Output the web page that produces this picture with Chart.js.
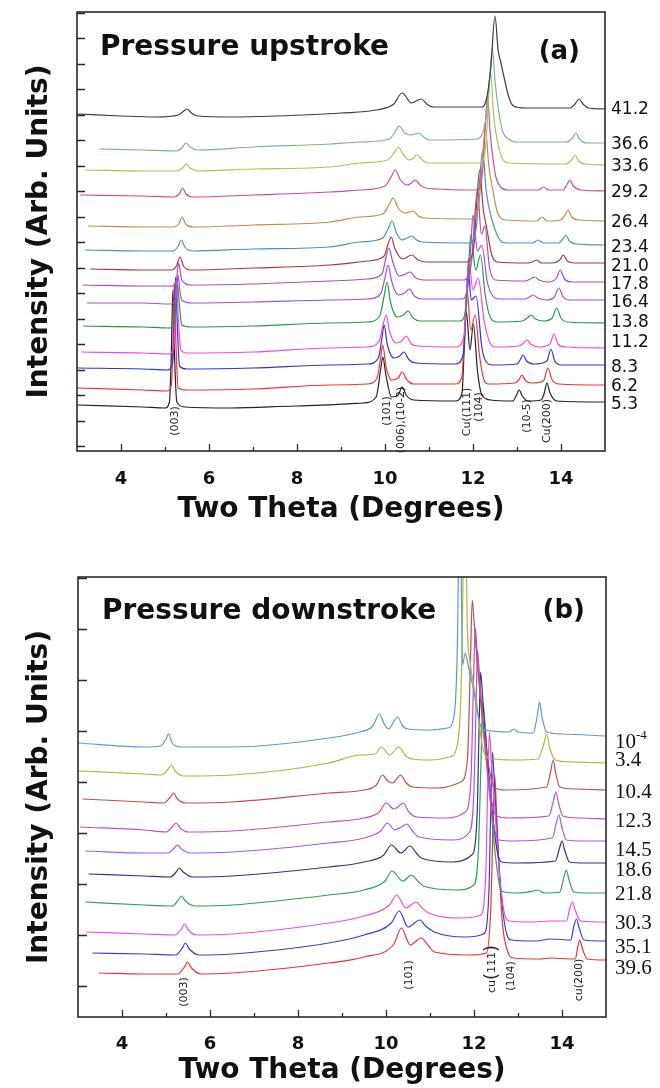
<!DOCTYPE html>
<html>
<head>
<meta charset="utf-8">
<title>XRD upstroke / downstroke</title>
<script src="https://cdn.jsdelivr.net/npm/chart.js@4.4.1/dist/chart.umd.min.js"></script>
<style>
  body { margin: 0; background: #fff; }
  .panel { position: absolute; left: 0; }
</style>
</head>
<body>
<div class="panel" style="top:0"><canvas id="up" width="660" height="545"></canvas></div>
<div class="panel" style="top:545px"><canvas id="down" width="660" height="543"></canvas></div>
<script>
// two theta axis ticks
const majorX = [4, 6, 8, 10, 12, 14];
const minorX = [5, 7, 9, 11, 13];

// ---- (a) pressure upstroke, pairs of [two theta, intensity] ----
const upPressures = ['41.2', '36.6', '33.6', '29.2', '26.4', '23.4', '21.0', '17.8', '16.4', '13.8', '11.2', '8.3', '6.2', '5.3'];
const upColors = ['#3d3d3d', '#7fb38a', '#a8c657', '#d24b9e', '#c98a4b', '#4a8ec8', '#a83b3b', '#b04bb8', '#a24fe6', '#2a9a48', '#f04ae6', '#3434d0', '#ee3636', '#222222'];

const up41_2 = [3.0,332, 4.0,330, 4.8,329, 5.3,331, 5.4,334, 5.5,337, 5.6,333, 5.75,330, 6.5,329, 7.5,330, 9.0,333, 9.8,336, 10.2,342, 10.39,353, 10.6,343, 10.82,347, 10.95,342, 11.1,339, 12.2,339, 12.3,346, 12.4,376, 12.5,430, 12.57,396, 12.63,384, 12.72,366, 12.82,348, 12.92,340, 13.2,338, 14.2,338, 14.32,342, 14.41,347, 14.5,342, 14.62,338, 15.0,337];
const up36_6 = [3.5,297, 4.5,296, 5.25,295, 5.4,299, 5.48,303, 5.57,299, 5.75,296, 7.0,299, 8.75,302, 9.43,304, 10.1,307, 10.24,315, 10.32,320, 10.45,313, 10.57,311, 10.68,312, 10.77,313, 10.88,309, 11.0,306, 12.1,307, 12.3,330, 12.38,370, 12.44,398, 12.5,365, 12.58,336, 12.68,314, 12.8,307, 13.0,304, 14.12,304, 14.26,308, 14.34,313, 14.42,307, 14.58,303, 15.0,303];
const up33_6 = [3.18,276, 4.5,275, 5.25,275, 5.4,278, 5.48,282, 5.57,278, 5.75,275, 7.0,277, 8.75,279, 9.43,283, 10.05,286, 10.22,294, 10.3,299, 10.42,291, 10.55,286, 10.65,288, 10.73,291, 10.85,286, 10.98,283, 12.16,283, 12.3,305, 12.35,345, 12.4,374, 12.47,330, 12.55,306, 12.65,289, 12.8,283, 14.1,282, 14.24,286, 14.32,291, 14.4,285, 14.55,282, 15.0,281];
const up29_2 = [3.07,251, 4.5,250, 5.2,249, 5.32,252, 5.4,258, 5.48,252, 5.65,249, 7.0,251, 8.75,254, 9.43,256, 10.0,260, 10.15,270, 10.23,276, 10.35,266, 10.5,261, 10.6,263, 10.68,266, 10.8,261, 10.92,258, 12.1,256, 12.22,275, 12.28,320, 12.33,350, 12.39,313, 12.45,289, 12.52,269, 12.63,259, 12.8,256, 13.48,256, 13.6,259, 13.72,256, 14.05,256, 14.13,261, 14.2,266, 14.28,260, 14.45,256, 15.0,255];
const up26_4 = [3.25,220, 4.5,219, 5.18,219, 5.31,222, 5.39,229, 5.47,222, 5.65,219, 7.0,221, 8.75,224, 9.43,229, 9.95,232, 10.1,242, 10.18,248, 10.3,238, 10.45,233, 10.55,234, 10.64,235, 10.76,230, 10.9,228, 12.0,227, 12.14,245, 12.22,290, 12.28,318, 12.36,280, 12.45,256, 12.56,233, 12.75,226, 13.45,225, 13.57,229, 13.68,225, 14.0,226, 14.09,231, 14.16,236, 14.24,229, 14.4,226, 15.0,225];
const up23_4 = [3.18,196, 4.5,195, 5.17,195, 5.29,199, 5.37,206, 5.45,199, 5.62,195, 7.0,197, 8.75,199, 9.43,204, 9.95,208, 10.08,218, 10.16,225, 10.26,213, 10.39,206, 10.5,208, 10.61,210, 10.72,206, 10.84,204, 11.93,203, 12.08,220, 12.15,265, 12.22,296, 12.3,255, 12.43,226, 12.55,211, 12.65,204, 12.8,203, 13.35,203, 13.48,206, 13.6,203, 13.95,203, 14.04,207, 14.11,211, 14.19,205, 14.35,202, 15.0,201];
const up21_0 = [3.3,177, 4.5,176, 5.14,176, 5.26,180, 5.34,189, 5.42,180, 5.58,176, 7.0,178, 8.75,181, 9.6,185, 9.98,190, 10.07,202, 10.14,209, 10.22,198, 10.4,187, 10.61,191, 10.75,186, 10.95,184, 11.85,184, 12.02,200, 12.08,240, 12.15,276, 12.23,238, 12.32,216, 12.42,192, 12.55,184, 13.25,183, 13.35,184, 13.45,186, 13.55,183, 13.8,183, 13.97,186, 14.05,191, 14.14,185, 14.3,183, 15.0,183];
const up17_8 = [3.14,161, 4.5,160, 5.15,160, 5.26,166, 5.29,178, 5.31,183, 5.34,177, 5.38,166, 5.6,161, 7.0,162, 8.75,165, 9.6,167, 9.93,172, 10.02,188, 10.09,198, 10.17,185, 10.32,170, 10.47,172, 10.57,174, 10.7,168, 10.88,166, 11.8,166, 11.97,185, 12.03,225, 12.1,256, 12.19,212, 12.27,220, 12.37,180, 12.5,166, 13.2,165, 13.3,167, 13.4,169, 13.5,166, 13.7,164, 13.9,168, 13.98,176, 14.08,167, 14.25,164, 15.0,164];
const up16_4 = [3.23,143, 4.5,143, 5.12,142, 5.24,146, 5.27,158, 5.3,171, 5.33,158, 5.38,146, 5.6,143, 7.0,144, 8.75,146, 9.6,147, 9.9,152, 10.0,168, 10.07,181, 10.15,165, 10.3,151, 10.45,153, 10.55,157, 10.67,150, 10.85,147, 11.75,147, 11.9,165, 11.95,200, 12.0,231, 12.1,195, 12.2,201, 12.32,165, 12.45,150, 12.6,147, 13.17,147, 13.28,149, 13.37,151, 13.47,148, 13.65,146, 13.85,149, 13.95,158, 14.05,149, 14.2,146, 15.0,146];
const up13_8 = [3.14,120, 4.5,119, 5.1,118, 5.22,124, 5.25,145, 5.28,163, 5.32,145, 5.38,121, 5.6,119, 7.0,120, 8.75,123, 9.6,124, 9.88,130, 9.98,150, 10.05,164, 10.12,145, 10.28,129, 10.42,131, 10.52,135, 10.64,128, 10.8,125, 11.7,125, 11.85,140, 11.9,180, 11.95,211, 12.06,176, 12.17,191, 12.28,150, 12.4,128, 12.55,124, 13.12,125, 13.23,128, 13.32,131, 13.42,127, 13.6,125, 13.8,128, 13.9,138, 14.0,128, 14.15,124, 15.0,123];
const up11_2 = [3.1,94, 4.5,93, 5.08,92, 5.2,98, 5.23,130, 5.26,168, 5.3,130, 5.36,96, 5.5,93, 7.0,94, 8.75,98, 9.6,99, 9.87,105, 9.96,122, 10.03,131, 10.1,115, 10.25,103, 10.38,105, 10.48,110, 10.6,102, 10.75,100, 11.6,99, 11.8,110, 11.85,150, 11.9,188, 12.0,156, 12.12,168, 12.25,126, 12.36,106, 12.5,99, 13.05,100, 13.15,103, 13.23,106, 13.31,102, 13.5,99, 13.75,102, 13.84,112, 13.93,102, 14.1,99, 15.0,98];
const up8_3 = [3.0,78, 4.5,77, 5.05,76, 5.17,82, 5.21,120, 5.24,169, 5.28,120, 5.33,80, 5.5,77, 7.0,78, 8.75,81, 9.6,82, 9.85,88, 9.93,108, 9.98,121, 10.05,102, 10.2,88, 10.33,90, 10.43,94, 10.55,86, 10.7,83, 11.6,82, 11.78,92, 11.84,135, 11.89,178, 11.96,146, 12.07,150, 12.2,99, 12.3,84, 12.45,81, 13.0,82, 13.07,86, 13.14,91, 13.22,85, 13.4,82, 13.68,85, 13.77,97, 13.86,85, 14.0,81, 15.0,81];
const up6_2 = [3.0,58, 4.5,56, 5.05,55, 5.14,60, 5.18,100, 5.21,163, 5.25,100, 5.3,58, 5.5,56, 7.0,57, 8.75,61, 9.6,62, 9.82,68, 9.9,88, 9.95,101, 10.02,80, 10.15,66, 10.3,68, 10.39,74, 10.5,66, 10.65,62, 11.6,62, 11.75,70, 11.8,110, 11.86,158, 11.95,116, 12.05,131, 12.15,90, 12.25,66, 12.35,62, 12.95,63, 13.04,66, 13.11,71, 13.2,65, 13.35,63, 13.6,65, 13.7,78, 13.8,66, 13.95,62, 15.0,61];
const up5_3 = [3.0,41, 4.5,39, 5.0,38, 5.1,44, 5.14,86, 5.18,156, 5.22,86, 5.27,44, 5.45,39, 6.5,38, 8.0,40, 9.5,43, 9.8,49, 9.9,76, 9.95,89, 10.02,71, 10.15,49, 10.3,51, 10.39,59, 10.48,51, 10.65,46, 11.6,45, 11.75,53, 11.8,96, 11.85,134, 11.93,96, 12.01,122, 12.1,76, 12.2,51, 12.4,46, 12.9,45, 12.98,50, 13.05,56, 13.12,50, 13.25,45, 13.55,46, 13.62,53, 13.68,63, 13.75,53, 13.9,45, 15.0,44];
const upTraces = [up41_2, up36_6, up33_6, up29_2, up26_4, up23_4, up21_0, up17_8, up16_4, up13_8, up11_2, up8_3, up6_2, up5_3];

// peak labels of (a): text, two theta, intensity at label centre
const upHkl = ['(003)', '(101)', '(006),(10-2)', 'Cu((111)', '(104)', '(10-5)', 'Cu(200)'];
const upHklX = [5.23, 10.05, 10.36, 11.86, 12.14, 13.23, 13.68];
const upHklY = [25, 35, 26, 34, 39, 30, 25];

// ---- (b) pressure downstroke ----
const downPressures = ['10^-4', '3.4', '10.4', '12.3', '14.5', '18.6', '21.8', '30.3', '35.1', '39.6'];
const downColors = ['#5b9bd0', '#b5b53c', '#c0504d', '#c04ec6', '#a65ae0', '#32328e', '#2fa24f', '#f24ee0', '#3c3cd6', '#f03434'];

const down1e4 = [3.0,243, 4.5,239, 4.88,240, 4.99,246, 5.06,252, 5.14,243, 5.35,239, 6.5,239, 8.7,248, 9.4,254, 9.7,260, 9.85,272, 9.96,262, 10.06,257, 10.16,263, 10.26,269, 10.38,260, 10.5,257, 11.0,256, 11.4,258, 11.55,271, 11.62,336, 11.68,506, 11.74,321, 11.8,333, 11.88,318, 11.97,301, 12.08,274, 12.17,258, 12.4,255, 12.8,254, 12.9,257, 13.0,254, 13.35,253, 13.44,271, 13.49,284, 13.55,268, 13.65,254, 14.0,252, 15.0,250];
const down3_4 = [3.0,215, 4.5,212, 4.9,211, 5.05,217, 5.12,221, 5.21,215, 5.4,210, 6.5,211, 8.7,223, 9.4,231, 9.75,232, 9.9,239, 10.08,231, 10.29,239, 10.45,230, 10.6,227, 11.0,226, 11.45,229, 11.62,241, 11.7,286, 11.8,486, 11.85,356, 11.9,328, 12.05,286, 12.2,238, 12.35,228, 12.9,226, 13.45,227, 13.58,241, 13.65,252, 13.72,238, 13.85,226, 14.2,224, 15.0,223];
const down10_4 = [3.1,187, 4.5,184, 4.95,183, 5.1,189, 5.17,193, 5.26,187, 5.45,183, 6.5,184, 8.7,193, 9.5,196, 9.78,201, 9.92,211, 10.04,205, 10.15,203, 10.24,207, 10.33,211, 10.46,203, 10.6,199, 11.2,198, 11.7,204, 11.85,226, 11.92,326, 11.96,386, 12.0,366, 12.05,336, 12.2,266, 12.35,216, 12.45,199, 12.7,196, 13.65,199, 13.74,214, 13.8,226, 13.86,212, 13.95,199, 14.3,197, 15.0,196];
const down12_3 = [3.05,159, 4.5,156, 5.0,154, 5.16,160, 5.23,163, 5.32,158, 5.5,154, 6.5,155, 8.7,164, 9.5,168, 9.85,174, 10.0,183, 10.18,177, 10.3,180, 10.39,183, 10.52,174, 10.7,169, 11.4,168, 11.8,174, 11.93,206, 11.99,306, 12.03,358, 12.08,326, 12.15,286, 12.28,226, 12.42,181, 12.52,170, 12.8,168, 13.7,170, 13.8,184, 13.86,194, 13.92,183, 14.02,170, 14.4,168, 15.0,167];
const down14_5 = [3.17,135, 4.5,133, 5.05,133, 5.19,138, 5.26,141, 5.35,137, 5.55,133, 6.5,134, 8.7,143, 9.5,148, 9.88,155, 10.03,163, 10.2,156, 10.35,159, 10.47,162, 10.6,155, 10.75,149, 11.5,146, 11.9,154, 12.0,196, 12.05,286, 12.08,336, 12.13,306, 12.2,266, 12.33,201, 12.47,156, 12.57,146, 12.9,145, 13.78,148, 13.87,163, 13.93,171, 13.99,160, 14.1,146, 14.5,145, 15.0,145];
const down18_6 = [3.24,112, 4.5,110, 5.1,109, 5.23,114, 5.3,118, 5.39,114, 5.6,109, 6.5,110, 8.7,119, 9.5,124, 9.95,131, 10.12,141, 10.34,133, 10.55,140, 10.67,134, 10.8,128, 11.5,124, 11.95,131, 12.07,171, 12.12,266, 12.15,314, 12.2,286, 12.27,246, 12.4,181, 12.53,134, 12.63,124, 13.0,123, 13.85,125, 13.95,139, 14.0,145, 14.06,136, 14.17,124, 14.5,123, 15.0,123];
const down21_8 = [3.17,84, 4.5,81, 5.15,80, 5.28,86, 5.35,90, 5.44,85, 5.65,80, 6.5,81, 8.7,91, 9.5,96, 9.98,105, 10.14,115, 10.38,105, 10.58,111, 10.7,106, 10.85,100, 11.6,96, 12.0,101, 12.1,136, 12.16,226, 12.2,284, 12.25,261, 12.32,216, 12.45,146, 12.58,101, 12.68,94, 13.0,93, 13.35,95, 13.45,96, 13.6,93, 13.95,94, 14.04,108, 14.1,116, 14.16,106, 14.27,94, 14.6,93, 15.0,93];
const down30_3 = [3.17,54, 4.5,52, 5.2,51, 5.35,57, 5.42,62, 5.51,56, 5.7,51, 6.5,52, 8.7,63, 9.5,70, 10.08,81, 10.24,91, 10.45,78, 10.68,84, 10.8,79, 10.97,73, 11.7,68, 12.15,71, 12.27,116, 12.31,196, 12.35,254, 12.39,226, 12.46,186, 12.57,116, 12.7,71, 12.8,65, 13.3,64, 13.7,65, 14.1,65, 14.18,78, 14.24,84, 14.3,76, 14.42,65, 15.0,64];
const down35_1 = [3.33,33, 4.5,32, 5.22,31, 5.37,38, 5.44,43, 5.53,37, 5.75,31, 6.5,32, 8.7,43, 9.5,51, 10.12,63, 10.3,75, 10.5,59, 10.77,66, 10.9,60, 11.1,54, 11.8,49, 12.22,52, 12.34,96, 12.38,176, 12.42,234, 12.46,206, 12.52,156, 12.63,86, 12.75,51, 12.85,46, 13.4,45, 13.75,47, 14.2,46, 14.27,60, 14.33,67, 14.39,58, 14.5,46, 15.0,45];
const down39_6 = [3.47,13, 4.5,12, 5.27,12, 5.42,19, 5.49,24, 5.58,18, 5.8,12, 6.5,13, 8.7,23, 9.5,29, 10.18,42, 10.35,58, 10.55,41, 10.8,48, 10.95,41, 11.1,34, 11.9,31, 12.28,33, 12.38,76, 12.43,156, 12.47,211, 12.51,176, 12.56,126, 12.65,61, 12.77,34, 12.9,28, 13.5,27, 13.75,28, 14.3,27, 14.36,39, 14.4,46, 14.46,38, 14.57,27, 15.0,26];
const downTraces = [down1e4, down3_4, down10_4, down12_3, down14_5, down18_6, down21_8, down30_3, down35_1, down39_6];

const downHkl = ['(003)', '(101)', 'cu(111)', '(104)', 'cu(200)'];
const downHklX = [5.42, 10.53, 12.42, 12.85, 14.4];
const downHklY = [-6, 11, 17, 10, 6];

// label offsets in px from the end of each trace
const upNudge = [1, 2, 2, 2, 2, 3, 4, 3, 3, 0, -5, 3, 2, 3];
const downNudge = [6, -3, 2, 2, 9, 7, 1, 1, 6, 8];

function pts(flat) {
    const out = [];
    for (let i = 0; i < flat.length; i += 2) out.push({x: flat[i], y: flat[i + 1]});
    return out;
}

function drawRotated(ctx, text, big) {
    // text rotated -90deg, centred on the origin
    const parts = big ? text.split(/([()])/).filter(s => s.length) : [text];
    const fontOf = s => (big && (s === '(' || s === ')')) ? '18px "DejaVu Sans"' : '11px "DejaVu Sans"';
    let total = 0;
    parts.forEach(s => { ctx.font = fontOf(s); total += ctx.measureText(s).width; });
    let pos = -total / 2;
    ctx.textAlign = 'left';
    ctx.textBaseline = 'middle';
    parts.forEach(s => {
        ctx.font = fontOf(s);
        ctx.fillText(s, pos, 0);
        pos += ctx.measureText(s).width;
    });
}

function makeDecor(cfg) {
    return {
        id: 'decor',
        afterDraw(chart) {
            const ctx = chart.ctx, a = chart.chartArea;
            const xs = chart.scales.x, ys = chart.scales.y;
            ctx.save();

            // inward ticks
            ctx.strokeStyle = '#2a2a2a';
            ctx.lineWidth = 1.3;
            ctx.beginPath();
            majorX.forEach(v => {
                const px = Math.round(xs.getPixelForValue(v)) + 0.5;
                ctx.moveTo(px, a.bottom); ctx.lineTo(px, a.bottom - 7);
            });
            minorX.forEach(v => {
                const px = Math.round(xs.getPixelForValue(v)) + 0.5;
                ctx.moveTo(px, a.bottom); ctx.lineTo(px, a.bottom - 4);
            });
            for (let v = 0; v < ys.max; v += cfg.yStep) {
                const py = Math.round(ys.getPixelForValue(v)) + 0.5;
                ctx.moveTo(a.left, py); ctx.lineTo(a.left + cfg.yTickLen, py);
            }
            ctx.stroke();

            // frame
            ctx.lineWidth = 1.6;
            ctx.strokeRect(a.left, a.top, a.right - a.left, a.bottom - a.top);

            // panel heading and tag
            ctx.fillStyle = '#111';
            ctx.font = 'bold 28px "DejaVu Sans"';
            ctx.textBaseline = 'alphabetic';
            ctx.textAlign = 'left';
            ctx.fillText(cfg.heading, a.left + cfg.headingDx, a.top + cfg.headingDy);
            ctx.font = 'bold 26px "DejaVu Sans"';
            ctx.textAlign = 'right';
            ctx.fillText(cfg.tag, a.right - cfg.tagDx, a.top + cfg.tagDy);

            // pressure labels at the right end of each trace
            ctx.textAlign = 'left';
            ctx.textBaseline = 'middle';
            chart.data.datasets.forEach((ds, i) => {
                const last = ds.data[ds.data.length - 1];
                const py = ys.getPixelForValue(last.y) + cfg.nudge[i];
                const lx = a.right + cfg.labelDx;
                const txt = ds.label;
                ctx.font = cfg.labelFont;
                if (txt.includes('^')) {
                    const [base, sup] = txt.split('^');
                    ctx.fillText(base, lx, py);
                    const w = ctx.measureText(base).width;
                    ctx.font = cfg.supFont;
                    ctx.fillText(sup, lx + w, py - 6);
                } else {
                    ctx.fillText(txt, lx, py);
                }
            });

            // peak names, rotated
            ctx.fillStyle = '#222';
            cfg.hkl.forEach((t, i) => {
                const px = xs.getPixelForValue(cfg.hklX[i]);
                const py = ys.getPixelForValue(cfg.hklY[i]);
                ctx.save();
                ctx.translate(px, py);
                ctx.rotate(-Math.PI / 2);
                drawRotated(ctx, t, t === 'cu(111)');
                ctx.restore();
            });
            ctx.restore();
        }
    };
}

function drawPanel(canvasId, traces, names, colors, p, decor) {
    return new Chart(canvasId, {
        type: 'line',
        data: {
            datasets: traces.map((t, i) => ({
                label: names[i],
                data: pts(t),
                borderColor: colors[i],
                borderWidth: 1.2,
                pointRadius: 0,
                cubicInterpolationMode: 'monotone',
                fill: false
            }))
        },
        plugins: [makeDecor(decor)],
        options: {
            responsive: false,
            animation: false,
            devicePixelRatio: 1,
            layout: {padding: {top: p.top, right: p.right, left: 0, bottom: 0}},
            plugins: {legend: {display: false}, tooltip: {enabled: false}},
            scales: {
                x: {
                    type: 'linear', min: 3, max: 15,
                    afterBuildTicks: s => { s.ticks = majorX.map(v => ({value: v})); },
                    afterFit: s => { s.height = p.xHeight; },
                    ticks: {color: '#111', padding: p.tickPad, font: {family: 'DejaVu Sans', weight: 'bold', size: 18}},
                    grid: {display: false},
                    border: {display: false},
                    title: {display: true, text: 'Two Theta (Degrees)', color: '#111',
                        font: {family: 'DejaVu Sans', weight: 'bold', size: 28},
                        padding: {top: 0, bottom: p.xTitlePad}}
                },
                y: {
                    type: 'linear', min: p.yMin, max: p.yMax,
                    afterFit: s => { s.width = p.yWidth; },
                    ticks: {display: false},
                    grid: {display: false},
                    border: {display: false},
                    title: {display: true, text: 'Intensity (Arb. Units)', color: '#111',
                        font: {family: 'DejaVu Sans', weight: 'bold', size: 28},
                        padding: {top: 23, bottom: 0}}
                }
            }
        }
    });
}

Chart.defaults.font.family = '"DejaVu Sans", sans-serif';

drawPanel('up', upTraces, upPressures, upColors,
    {top: 12, right: 55, xHeight: 94, yWidth: 77, tickPad: 10, xTitlePad: 18, yMin: -5, yMax: 434},
    {yStep: 25.5, yTickLen: 8, heading: 'Pressure upstroke', headingDx: 23, headingDy: 43,
     tag: '(a)', tagDx: 25, tagDy: 47, nudge: upNudge, labelDx: 6,
     labelFont: '17px "DejaVu Sans"', supFont: '11px "DejaVu Sans"',
     hkl: upHkl, hklX: upHklX, hklY: upHklY});

drawPanel('down', downTraces, downPressures, downColors,
    {top: 32, right: 54, xHeight: 71, yWidth: 78, tickPad: 9, xTitlePad: 0, yMin: -31, yMax: 409},
    {yStep: 51, yTickLen: 9, heading: 'Pressure downstroke', headingDx: 24, headingDy: 42,
     tag: '(b)', tagDx: 21, tagDy: 41, nudge: downNudge, labelDx: 9,
     labelFont: '21px "Liberation Serif"', supFont: '13px "Liberation Serif"',
     hkl: downHkl, hklX: downHklX, hklY: downHklY});
</script>
</body>
</html>
